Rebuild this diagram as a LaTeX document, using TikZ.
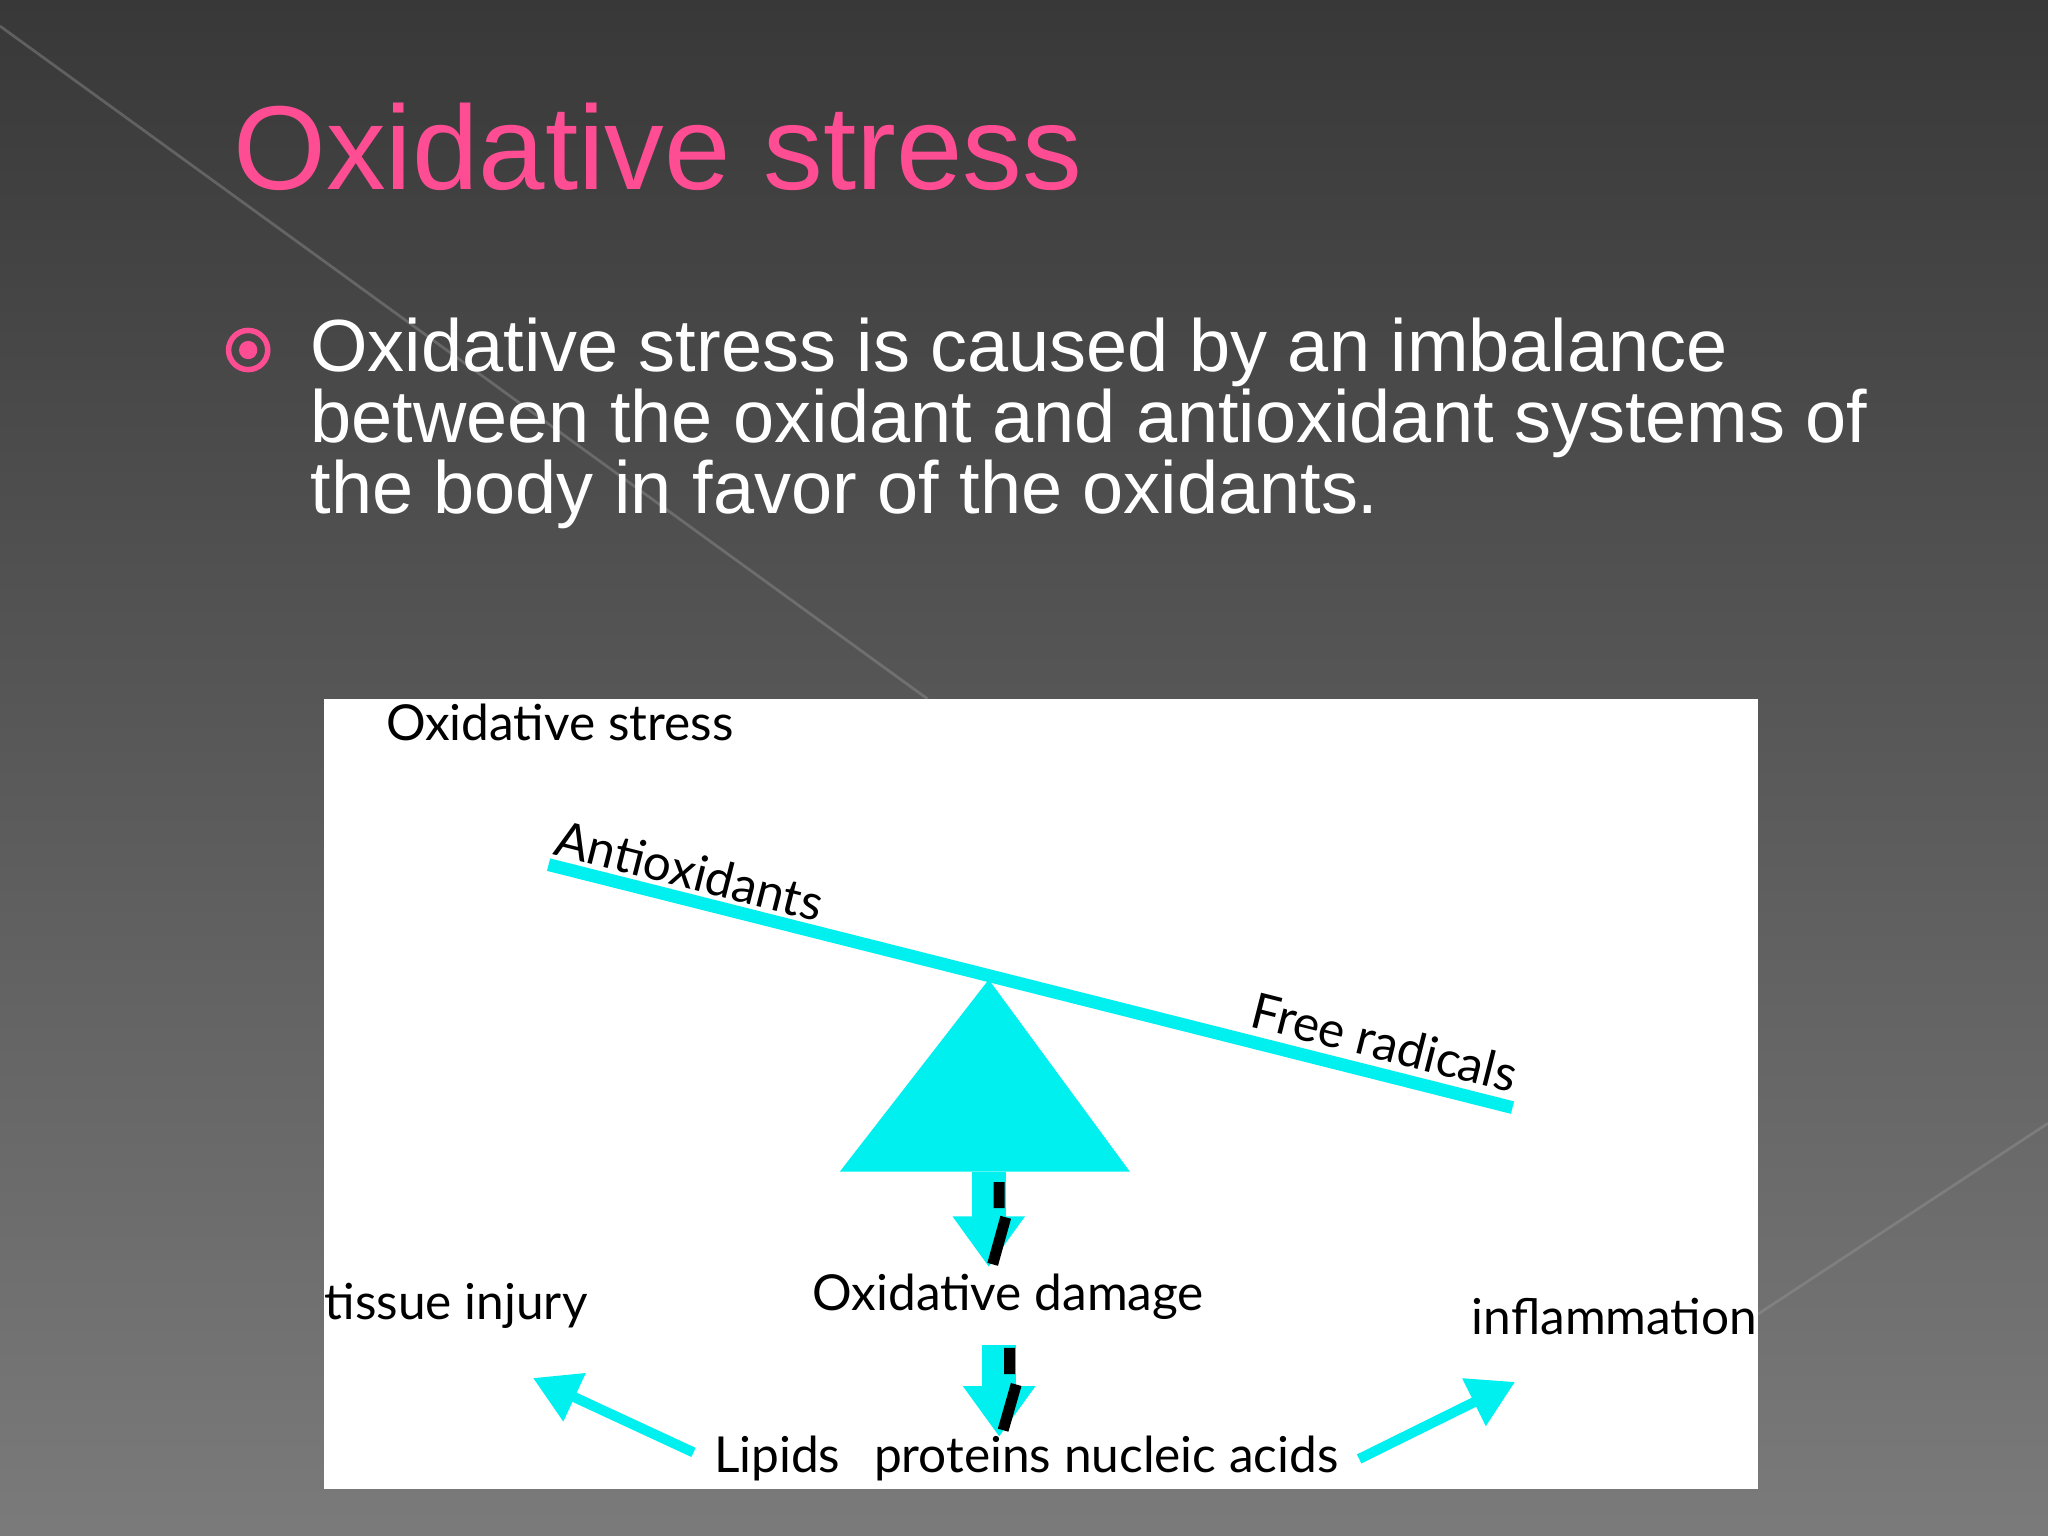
\documentclass[tikz,border=0pt]{standalone}
\usepackage{fontspec}
\setmainfont{Liberation Sans}
\newfontfamily\gothic{Lato}
\usetikzlibrary{positioning,arrows.meta}
\definecolor{slidepink}{HTML}{FF4D94}
\definecolor{aqua}{HTML}{00F0F0}
\tikzset{
  lbl/.style={font=\gothic\fontsize{10.8}{11}\selectfont, text=black, inner sep=0pt},
  beam/.style={line width=2.8pt, aqua},
  fatarrow/.style={-{Triangle[length=11pt,width=15pt]}, line width=7.5pt, aqua},
  thinarrow/.style={-{Triangle[length=10pt,width=11pt]}, line width=2.2pt, aqua}
}
\begin{document}
\begin{tikzpicture}[x=1cm,y=-1cm]
	\useasboundingbox (0,0) rectangle (15.68,11.76);
	\shade[top color=black!78, bottom color=black!52] (0,0) rectangle (15.68,11.76);
	\draw[white!60!black, opacity=0.4, line width=0.6pt] (0,0.2) -- (7.1,5.35);
	\draw[white!60!black, opacity=0.4, line width=0.6pt] (15.68,8.6) -- (13.4,10.1);

	% title and bullet
	\node[anchor=base west, inner sep=0pt, text=slidepink, font=\fontsize{26}{26}\selectfont] (title) at (1.78,1.45) {Oxidative stress};
	\node[circle, draw=slidepink, line width=1.2pt, minimum size=0.3cm, inner sep=0pt] (bul) at (1.9,2.68) {};
	\fill[slidepink] (bul) circle (0.07);
	\node[anchor=north west, inner sep=0pt, text=white, align=left, font=\fontsize{16.1}{15.4}\selectfont] (body) at (2.37,2.43)
	  {Oxidative stress is caused by an imbalance\\between the oxidant and antioxidant systems of\\the body in favor of the oxidants.};

	% figure
	\fill[white] (2.48,5.35) rectangle (13.46,11.4);
	\node[lbl, anchor=west] (head) at (2.95,5.53) {Oxidative stress};
	\coordinate (bl) at (4.2,6.62);
	\coordinate (br) at (11.58,8.48);
	\draw[beam] (bl) -- (br);
	\node[lbl, rotate=-14.2, anchor=south west] (anti) at (4.22,6.55) {Antioxidants};
	\node[lbl, rotate=-14.2, anchor=south east] (free) at (11.58,8.38) {Free radicals};
	\fill[aqua] (7.57,7.5) -- (8.65,8.97) -- (6.43,8.97) -- cycle;
	\coordinate (tri) at (7.57,8.97);

	\node[lbl] (dmg) at (7.72,9.93) {Oxidative damage};
	\node[lbl, anchor=west] (tis) at (2.48,10.0) {tissue injury};
	\node[lbl, anchor=east] (infl) at (13.46,10.08) {inflammation};
	\node[lbl] (lip) at (5.95,11.17) {Lipids};
	\node[lbl] (prot) at (8.47,11.17) {proteins nucleic acids};

	\draw[fatarrow] (tri) -- (7.57,9.7);
	\draw[black, line width=2.4pt] (7.65,9.05) -- (7.65,9.25) (7.7,9.32) -- (7.6,9.68);
	\draw[fatarrow] (7.65,10.3) -- (7.65,11.0);
	\draw[black, line width=2.4pt] (7.73,10.32) -- (7.73,10.52) (7.78,10.6) -- (7.68,10.95);
	\draw[thinarrow] (lip.west) ++(-0.15,-0.05) -- (4.08,10.55);
	\draw[thinarrow] (prot.east) ++(0.15,0) -- (11.6,10.58);
\end{tikzpicture}
\end{document}
